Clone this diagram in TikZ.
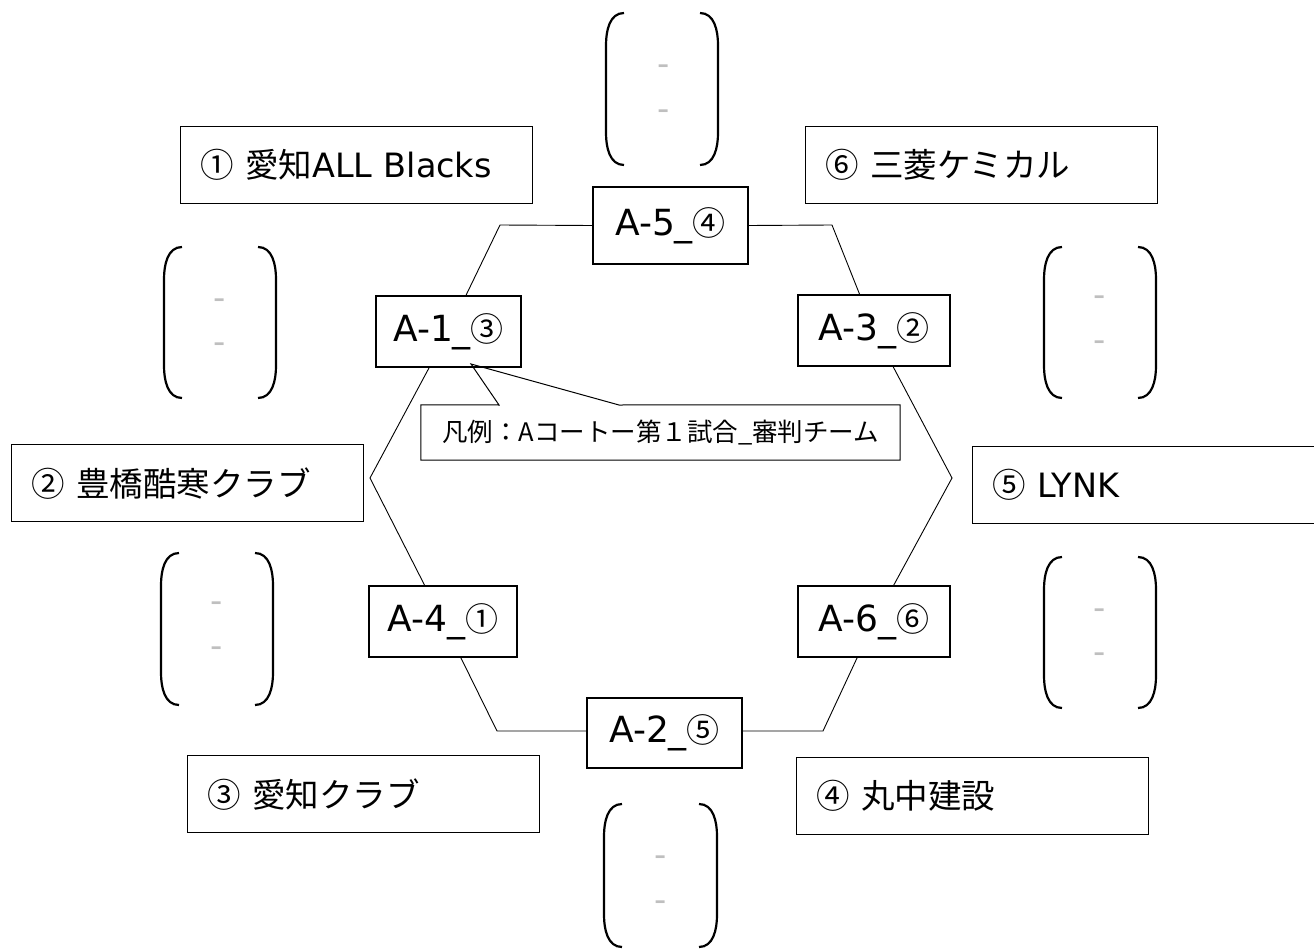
\documentclass[tikz,border=0pt]{standalone}
\usepackage{fontspec}
\setmainfont{DejaVu Sans}
\newfontfamily\jp{Noto Sans CJK JP}
\newcommand\drawbrk[4]{%
  \draw[brk] ({#1+18},{#3}) to[out=180,in=90] ({#1},{#3+32}) -- ({#1},{#4-32}) to[out=-90,in=180] ({#1+18},{#4});
  \draw[brk] ({#2-18},{#3}) to[out=0,in=90] ({#2},{#3+32}) -- ({#2},{#4-32}) to[out=-90,in=0] ({#2-18},{#4});
}
\begin{document}
\begin{tikzpicture}[x=1pt,y=-1pt,
  teambox/.style={draw, line width=1.3pt, minimum height=77pt, text width=312pt, inner xsep=20pt, inner ysep=0pt, align=left, anchor=north west, font=\fontsize{33.5}{36}\selectfont},
  matchbox/.style={draw, fill=white, line width=1.3pt, inner sep=0pt, font=\fontsize{36}{40}\selectfont},
  circ/.style={},
  brk/.style={line width=2.2pt},
  dashmark/.style={text=gray!50, inner sep=0pt, font=\fontsize{34}{36}\selectfont},
  hexline/.style={line width=0.9pt},
  legendline/.style={line width=1pt}]
\useasboundingbox (0,0) rectangle (1314,952);

% team boxes
\node[teambox] (t1) at (180,126) {{\jp ①} {\jp 愛知}ALL Blacks};
\node[teambox] (t6) at (805,126) {{\jp ⑥} {\jp 三菱ケミカル}};
\node[teambox] (t2) at (11,444) {{\jp ②} {\jp 豊橋酷寒クラブ}};
\node[teambox, text width=330pt] (t5) at (972,446) {{\jp ⑤} LYNK};
\node[teambox] (t3) at (187,755) {{\jp ③} {\jp 愛知クラブ}};
\node[teambox] (t4) at (796,757) {{\jp ④} {\jp 丸中建設}};

% match boxes
\node[matchbox, minimum width=155pt, minimum height=77pt] (A5) at (670.5,225.5) {A-5\_{\jp\fontsize{33}{36}\selectfont ④}};
\node[matchbox, minimum width=145pt, minimum height=71pt] (A1) at (448.5,331.5) {A-1\_{\jp\fontsize{33}{36}\selectfont ③}};
\node[matchbox, minimum width=152pt, minimum height=71pt] (A3) at (874,330.5) {A-3\_{\jp\fontsize{33}{36}\selectfont ②}};
\node[matchbox, minimum width=148pt, minimum height=71pt] (A4) at (443,621.5) {A-4\_{\jp\fontsize{33}{36}\selectfont ①}};
\node[matchbox, minimum width=152pt, minimum height=71pt] (A6) at (874,621.5) {A-6\_{\jp\fontsize{33}{36}\selectfont ⑥}};
\node[matchbox, minimum width=155pt, minimum height=70pt] (A2) at (664.5,733) {A-2\_{\jp\fontsize{33}{36}\selectfont ⑤}};

% hexagon vertices
\coordinate (vTL) at (500,225);
\coordinate (vTR) at (832,225);
\coordinate (vL) at (370,478);
\coordinate (vR) at (952,478);
\coordinate (vBL) at (497,731);
\coordinate (vBR) at (823,731);

\draw[hexline] (A5.west) -- (vTL) -- (A1);
\draw[hexline] (A1) -- (vL) -- (A4);
\draw[hexline] (A4) -- (vBL) -- (A2.west |- vBL);
\draw[hexline] (A2.east |- vBR) -- (vBR) -- (A6);
\draw[hexline] (A6) -- (vR) -- (A3);
\draw[hexline] (A3) -- (vTR) -- (A5.east);

% legend callout
\node[font=\jp\fontsize{25.5}{27}\selectfont, minimum width=479pt, minimum height=55pt, inner sep=0pt] (legend) at (660.5,432.5) {凡例：Aコートー第１試合\_審判チーム};
\coordinate (tip) at (471,364);
\coordinate (pb1) at (499,405);
\coordinate (pb2) at (619,405);
\draw[legendline] (legend.north west) -- (pb1) -- (tip) -- (pb2) -- (legend.north east) -- (legend.south east) -- (legend.south west) -- cycle;

% brackets
\drawbrk{606}{718}{13}{165}
\drawbrk{164}{276}{247}{398}
\drawbrk{161}{273}{553}{705}
\drawbrk{1044}{1156}{247}{398}
\drawbrk{1044}{1156}{557}{708}
\drawbrk{604}{717}{804}{947}

% gray dashes
\node[dashmark] (d1a) at (664,70) {-};
\node[dashmark] (d1b) at (664,115) {-};
\node[dashmark] (d2a) at (220,304) {-};
\node[dashmark] (d2b) at (220,348) {-};
\node[dashmark] (d3a) at (217,607) {-};
\node[dashmark] (d3b) at (217,652) {-};
\node[dashmark] (d4a) at (1100,301) {-};
\node[dashmark] (d4b) at (1100,346) {-};
\node[dashmark] (d5a) at (1100,614) {-};
\node[dashmark] (d5b) at (1100,658) {-};
\node[dashmark] (d6a) at (661,861) {-};
\node[dashmark] (d6b) at (661,906) {-};
\end{tikzpicture}
\end{document}
